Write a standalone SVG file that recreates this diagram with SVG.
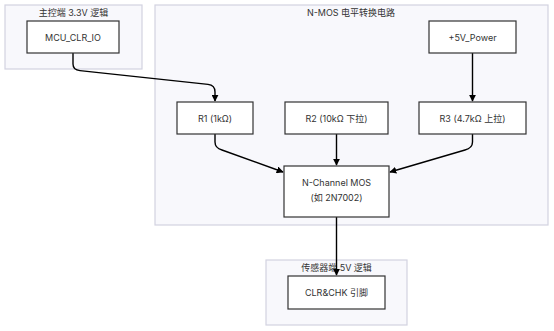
<svg xmlns="http://www.w3.org/2000/svg" width="554" height="331" viewBox="0 0 554 331">
<defs>
<style>
.cluster{fill:#f8f8fc;stroke:#d2d2e0;stroke-width:1.2}
.node rect{fill:#ffffff;stroke:#333333;stroke-width:1.2}
text{font-family:Inter,"Noto Sans CJK SC",sans-serif;font-size:9px;fill:#333333;text-anchor:middle;dominant-baseline:central}
.edge{fill:none;stroke:#000000;stroke-width:1.4}
</style>
<marker id="arr" viewBox="0 0 10 10" refX="9" refY="5" markerWidth="7" markerHeight="7" orient="auto" markerUnits="userSpaceOnUse">
<path d="M0,0 L10,5 L0,10 z" fill="#000000"/>
</marker>
</defs>
<g id="cluster-host">
<rect class="cluster" x="5" y="5" width="137" height="64"/>
<text x="73.5" y="12">主控端 3.3V 逻辑</text>
</g>
<g id="cluster-nmos">
<rect class="cluster" x="155" y="5" width="393" height="220"/>
<text x="351" y="12">N-MOS 电平转换电路</text>
</g>
<g id="cluster-sensor">
<rect class="cluster" x="266" y="260" width="141" height="65"/>
<text x="336.5" y="267">传感器端 5V 逻辑</text>
</g>
<g id="connectors">
<path class="edge" d="M73,53 L73,64 Q73,70 80,70.6 L208,84.4 Q215,85 215,92 L215,101" marker-end="url(#arr)"/>
<path class="edge" d="M472.5,53 L472.5,101" marker-end="url(#arr)"/>
<path class="edge" d="M215,134 L215,142 Q215,148 222,150 L283,172" marker-end="url(#arr)"/>
<path class="edge" d="M336.5,134 L336.5,165" marker-end="url(#arr)"/>
<path class="edge" d="M472.5,134 L472.5,142 Q472.5,148 465,150 L390,172" marker-end="url(#arr)"/>
<path class="edge" d="M336.5,217 L336.5,275" marker-end="url(#arr)"/>
</g>
<g id="node-mcu" class="node">
<rect x="27" y="21" width="92" height="32"/>
<text x="73" y="37">MCU_CLR_IO</text>
</g>
<g id="node-5v" class="node">
<rect x="429" y="21" width="87" height="32"/>
<text x="472.5" y="37">+5V_Power</text>
</g>
<g id="node-r1" class="node">
<rect x="177" y="102" width="76" height="32"/>
<text x="215" y="118">R1 (1kΩ)</text>
</g>
<g id="node-r2" class="node">
<rect x="285" y="102" width="103" height="32"/>
<text x="336.5" y="118">R2 (10kΩ 下拉)</text>
</g>
<g id="node-r3" class="node">
<rect x="419" y="102" width="107" height="32"/>
<text x="472.5" y="118">R3 (4.7kΩ 上拉)</text>
</g>
<g id="node-mos" class="node">
<rect x="284" y="166" width="105" height="51"/>
<text x="336.5" y="182">N-Channel MOS</text>
<text x="336.5" y="197">(如 2N7002)</text>
</g>
<g id="node-clr" class="node">
<rect x="288" y="276" width="97" height="33"/>
<text x="336.5" y="292.5">CLR&amp;CHK 引脚</text>
</g>
</svg>
